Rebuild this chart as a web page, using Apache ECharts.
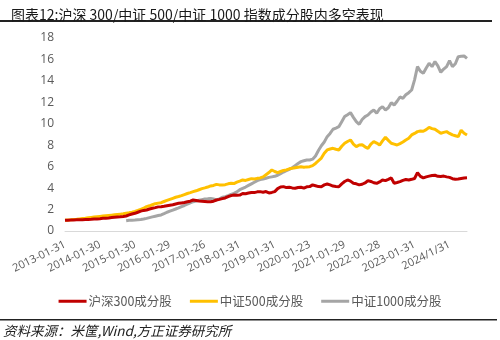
<!DOCTYPE html>
<html>
<head>
<meta charset="utf-8">
<script src="https://cdn.jsdelivr.net/npm/echarts@6/dist/echarts.min.js"></script>
<style>
  html, body { margin: 0; padding: 0; background: #fff; }
  #chart { width: 500px; height: 340px; }
</style>
</head>
<body>
<div id="chart"></div>
<script>
// Month-end trading days used as the January tick labels (one per year)
const yearLabels = ['2013-01-31', '2014-01-30', '2015-01-30', '2016-01-29', '2017-01-26',
  '2018-01-31', '2019-01-31', '2020-01-23', '2021-01-29', '2022-01-28', '2023-01-31', '2024/1/31'];
const monthCount = 139; // 2013-01 .. 2024-07

const yTicks = { min: 0, max: 18, interval: 2 };

// 沪深300成分股 long-short net value, monthly
const hs300 = [
  1.00, 1.01, 1.02, 1.03, 1.04, 1.05, 1.06, 1.07, 1.08, 1.09, 1.11, 1.13,
  1.15, 1.18, 1.20, 1.22, 1.25, 1.28, 1.30, 1.32, 1.35, 1.40, 1.50, 1.58,
  1.65, 1.75, 1.85, 1.92, 1.96, 2.05, 2.12, 2.18, 2.25, 2.27, 2.30, 2.35,
  2.40, 2.45, 2.52, 2.58, 2.62, 2.66, 2.72, 2.78, 2.89, 2.85, 2.80, 2.78,
  2.75, 2.72, 2.73, 2.78, 2.89, 2.95, 3.02, 3.08, 3.20, 3.30, 3.36, 3.33,
  3.35, 3.50, 3.48, 3.55, 3.60, 3.58, 3.65, 3.67, 3.62, 3.68, 3.55, 3.60,
  3.67, 3.95, 4.10, 4.14, 4.05, 4.08, 4.02, 3.98, 4.05, 4.08, 4.00, 4.12,
  4.14, 4.30, 4.22, 4.14, 4.13, 4.30, 4.38, 4.30, 4.19, 4.15, 4.13, 4.40,
  4.62, 4.76, 4.65, 4.45, 4.40, 4.30, 4.36, 4.48, 4.70, 4.62, 4.50, 4.45,
  4.58, 4.76, 4.70, 4.82, 4.95, 4.45, 4.52, 4.60, 4.72, 4.80, 4.75, 4.82,
  4.90, 5.45, 5.10, 4.95, 5.05, 5.12, 5.18, 5.20, 5.10, 5.08, 5.12, 5.05,
  5.00, 4.88, 4.82, 4.85, 4.90, 4.95, 4.97
];

// 中证500成分股
const zz500 = [
  1.00, 1.03, 1.05, 1.08, 1.10, 1.13, 1.16, 1.19, 1.23, 1.27, 1.30, 1.33,
  1.36, 1.39, 1.42, 1.45, 1.48, 1.51, 1.54, 1.57, 1.60, 1.65, 1.70, 1.76,
  1.83, 1.92, 2.02, 2.12, 2.27, 2.35, 2.45, 2.55, 2.60, 2.64, 2.75, 2.85,
  2.95, 3.05, 3.15, 3.22, 3.30, 3.40, 3.50, 3.58, 3.67, 3.75, 3.85, 3.95,
  4.02, 4.10, 4.20, 4.25, 4.35, 4.30, 4.28, 4.32, 4.40, 4.45, 4.42, 4.55,
  4.65, 4.76, 4.72, 4.80, 4.88, 4.85, 4.91, 4.95, 5.05, 5.25, 5.45, 5.69,
  5.55, 5.45, 5.55, 5.65, 5.70, 5.80, 5.85, 5.90, 5.95, 6.00, 5.95, 5.98,
  6.00, 6.10, 6.30, 6.55, 6.80, 7.25, 7.56, 7.65, 7.71, 7.62, 7.56, 7.90,
  8.18, 8.35, 8.49, 8.10, 7.87, 8.02, 8.05, 7.85, 7.71, 8.10, 8.33, 8.20,
  8.02, 8.40, 8.74, 8.45, 8.18, 8.10, 8.02, 8.15, 8.30, 8.49, 8.65, 8.96,
  9.10, 9.27, 9.33, 9.30, 9.45, 9.67, 9.55, 9.49, 9.30, 9.12, 9.20, 9.27,
  9.10, 8.96, 8.88, 8.80, 9.40, 9.12, 8.96
];

// 中证1000成分股 (series begins 2014-10)
const zz1000 = [
  null, null, null, null, null, null, null, null, null, null, null, null,
  null, null, null, null, null, null, null, null, null, 0.96, 1.00, 1.00,
  1.02, 1.05, 1.08, 1.12, 1.18, 1.25, 1.32, 1.38, 1.44, 1.50, 1.62, 1.75,
  1.85, 1.95, 2.05, 2.15, 2.28, 2.38, 2.50, 2.62, 2.73, 2.80, 2.86, 2.92,
  2.98, 3.00, 3.04, 2.98, 2.90, 3.00, 3.15, 3.20, 3.30, 3.42, 3.51, 3.65,
  3.85, 3.98, 4.10, 4.25, 4.40, 4.55, 4.70, 4.80, 4.85, 4.92, 5.00, 5.05,
  5.10, 5.20, 5.35, 5.50, 5.62, 5.75, 5.90, 6.10, 6.30, 6.47, 6.55, 6.62,
  6.62, 6.70, 7.00, 7.50, 7.95, 8.30, 8.80, 9.10, 9.49, 9.60, 9.73, 10.20,
  10.67, 10.85, 11.04, 10.60, 10.20, 9.95, 10.40, 10.67, 10.82, 11.10, 11.29, 10.98,
  11.40, 11.60, 11.29, 11.50, 11.97, 11.75, 12.10, 12.50, 12.38, 12.70, 12.90, 13.15,
  14.10, 15.33, 14.90, 14.71, 15.20, 15.64, 15.33, 15.80, 15.40, 14.80, 15.10, 15.33,
  15.89, 15.33, 15.60, 16.26, 16.30, 16.32, 16.10
];

const seriesNames = ['沪深300成分股', '中证500成分股', '中证1000成分股'];
const seriesColors = ['#C00000', '#FFC000', '#A5A5A5'];

// Category axis: one entry per month, January entries carry the printed date
const categories = [];
for (let i = 0; i < monthCount; i++) {
  const y = 2013 + Math.floor(i / 12);
  const m = i % 12 + 1;
  categories.push(m === 1 ? yearLabels[y - 2013] : y + '-' + String(m).padStart(2, '0'));
}

const cjk = '"Noto Sans CJK SC", "Microsoft YaHei", sans-serif';
const chart = echarts.init(document.getElementById('chart'), null, { renderer: 'canvas' });

chart.setOption({
  animation: false,
  backgroundColor: '#fff',
  color: seriesColors,
  grid: { left: 65, right: 33, top: 38, bottom: 109, containLabel: false },
  title: {
    text: '图表12:沪深 300/中证 500/中证 1000 指数成分股内多空表现',
    left: 6, top: 3,
    textStyle: { fontFamily: cjk, fontSize: 14, fontWeight: 'normal', color: '#1a1a1a' }
  },
  legend: {
    data: seriesNames,
    top: 290, left: 'center',
    icon: 'rect', itemWidth: 28, itemHeight: 3, itemGap: 18,
    textStyle: { fontFamily: cjk, fontSize: 12.5, color: '#595959', padding: [0, 0, 0, -3] }
  },
  xAxis: {
    type: 'category',
    data: categories,
    boundaryGap: false,
    axisLine: { lineStyle: { color: '#D9D9D9', width: 1 } },
    axisTick: { show: false },
    axisLabel: {
      interval: 11, rotate: 26, color: '#595959', fontSize: 11,
      fontFamily: '"Open Sans", sans-serif', margin: 13
    },
    splitLine: { show: false }
  },
  yAxis: {
    type: 'value',
    min: yTicks.min, max: yTicks.max, interval: yTicks.interval,
    axisLine: { show: false },
    axisTick: { show: false },
    splitLine: { show: false },
    axisLabel: { color: '#595959', fontSize: 12, fontFamily: '"Open Sans", sans-serif', margin: 11 }
  },
  series: [
    { name: seriesNames[0], type: 'line', data: hs300, showSymbol: false, lineStyle: { width: 3 }, z: 3 },
    { name: seriesNames[1], type: 'line', data: zz500, showSymbol: false, lineStyle: { width: 3 }, z: 2 },
    { name: seriesNames[2], type: 'line', data: zz1000, showSymbol: false, lineStyle: { width: 3 }, z: 1 }
  ],
  graphic: [
    { type: 'rect', shape: { x: 0, y: 20, width: 492, height: 2 }, style: { fill: '#222' }, silent: true },
    { type: 'rect', shape: { x: 0, y: 319, width: 497, height: 1.5 }, style: { fill: '#222' }, silent: true },
    {
      type: 'text', left: 3, top: 324,
      style: {
        text: '资料来源：米筐,Wind,方正证券研究所',
        font: 'italic 13.5px ' + cjk, fill: '#222'
      }
    }
  ]
});
</script>
</body>
</html>
